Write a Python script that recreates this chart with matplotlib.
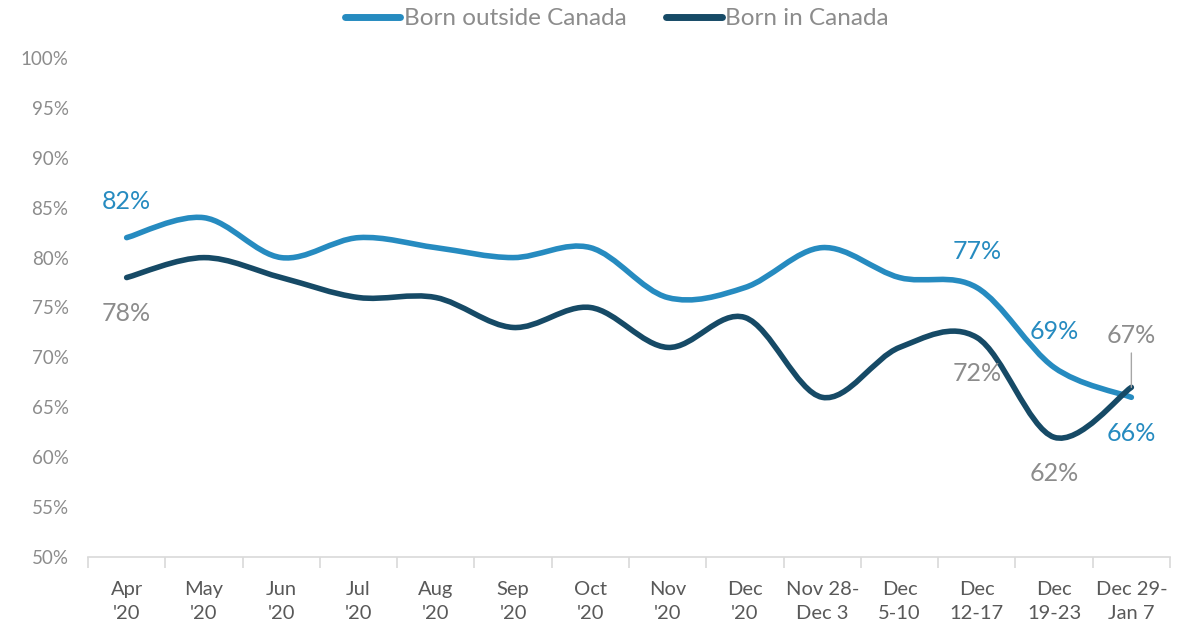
import numpy as np
import matplotlib
matplotlib.use("Agg")
import matplotlib.pyplot as plt
from matplotlib.path import Path
from matplotlib.patches import PathPatch
from matplotlib.lines import Line2D

categories = ["Apr\n'20", "May\n'20", "Jun\n'20", "Jul\n'20", "Aug\n'20", "Sep\n'20",
              "Oct\n'20", "Nov\n'20", "Dec\n'20", "Nov 28-\nDec 3", "Dec\n5-10",
              "Dec\n12-17", "Dec\n19-23", "Dec 29-\nJan 7"]
born_outside = [82, 84, 80, 82, 81, 80, 81, 76, 77, 81, 78, 77, 69, 66]
born_in = [78, 80, 78, 76, 76, 73, 75, 71, 74, 66, 71, 72, 62, 67]
yticks = [50, 55, 60, 65, 70, 75, 80, 85, 90, 95, 100]

C_OUT = "#268BC0"
C_IN = "#164A66"
GRAY = "#8C8C8C"
XGRAY = "#595959"

plt.rcParams['font.family'] = ['Lato', 'DejaVu Sans']

fig = plt.figure(figsize=(11.86, 6.27), dpi=100)
ax = fig.add_axes([88/1186, 1-557/627, (1170-88)/1186, (557-58)/627])


def smooth_path(xs, ys):
    pts = np.column_stack([xs, ys]).astype(float)
    verts = [pts[0]]
    codes = [Path.MOVETO]
    n = len(pts)
    for i in range(n-1):
        p0 = pts[i-1] if i > 0 else pts[i]
        p1 = pts[i]
        p2 = pts[i+1]
        p3 = pts[i+2] if i+2 < n else pts[i+1]
        c1 = p1 + (p2 - p0) / 6.0
        c2 = p2 - (p3 - p1) / 6.0
        verts += [c1, c2, p2]
        codes += [Path.CURVE4] * 3
    return Path(verts, codes)


x = np.arange(len(categories))
for ys, c in [(born_outside, C_OUT), (born_in, C_IN)]:
    patch = PathPatch(smooth_path(x, ys), facecolor='none', edgecolor=c,
                      lw=4.0, capstyle='round', joinstyle='round', zorder=3)
    ax.add_patch(patch)

ax.set_xlim(-0.5, len(categories)-0.5)
ax.set_ylim(50, 100)
ax.set_yticks(yticks)
ax.set_yticklabels([f"{v}%" for v in yticks], color=GRAY, fontsize=13.5)
ax.tick_params(axis='y', length=0, pad=14)
ax.set_xticks(x)
ax.set_xticklabels(categories, color=XGRAY, fontsize=14.5, linespacing=1.55)
ax.set_xticks(np.arange(-0.5, len(categories)), minor=True)
ax.tick_params(axis='x', which='major', length=0, pad=17)
ax.tick_params(axis='x', which='minor', length=8, color="#D9D9D9", width=1.2)
for s in ['top', 'right', 'left']:
    ax.spines[s].set_visible(False)
ax.spines['bottom'].set_color("#D9D9D9")
ax.spines['bottom'].set_linewidth(1.2)

fs = 18
off = 26  # points


def lab(i, ys, dy, color, **kw):
    ax.annotate(f"{ys[i]}%", (i, ys[i]), xytext=(0, dy), textcoords='offset points',
                ha='center', va='center', color=color, fontsize=fs, **kw)


lab(0, born_outside, off, C_OUT)
lab(0, born_in, -off, GRAY)
lab(11, born_outside, off, C_OUT)
lab(11, born_in, -off, GRAY)
lab(12, born_outside, off, C_OUT)
lab(12, born_in, -off, GRAY)
lab(13, born_outside, -off, C_OUT)
lab(13, born_in, 37, GRAY,
    arrowprops=dict(arrowstyle='-', color="#A6A6A6", lw=1, shrinkA=2, shrinkB=0))

handles = [Line2D([0], [0], color=C_OUT, lw=5, solid_capstyle='round'),
           Line2D([0], [0], color=C_IN, lw=5, solid_capstyle='round')]
fig.legend(handles, ["Born outside Canada", "Born in Canada"], loc='upper center',
           bbox_to_anchor=(0.52, 1.022), ncol=2, frameon=False, fontsize=17.5,
           labelcolor=GRAY, handlelength=2.3, handletextpad=0.15, columnspacing=1.6)

fig.savefig("out.png", dpi=100)
